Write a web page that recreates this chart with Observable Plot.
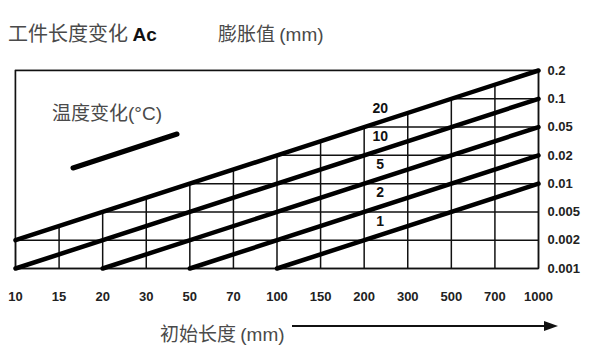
<!DOCTYPE html>
<html><head><meta charset="utf-8">
<script src="https://cdn.jsdelivr.net/npm/d3@7"></script>
<script src="https://cdn.jsdelivr.net/npm/@observablehq/plot@0.6"></script>
<style>
body{margin:0;background:#fff;}
#wrap{position:relative;width:600px;height:357px;overflow:hidden;font-family:"Noto Sans CJK SC","Liberation Sans",sans-serif;}
.t{position:absolute;white-space:nowrap;color:#4a4a4a;line-height:1;}
</style></head>
<body>
<div id="wrap">
<div id="chart"></div>
<div class="t" style="left:8px;top:23px;font-size:20px;">工件长度变化 <b style="font-family:'Liberation Sans';color:#111;font-size:19px;">Ac</b></div>
<div class="t" style="left:218px;top:23px;font-size:19px;">膨胀值 <span style="font-family:'Liberation Sans'">(mm)</span></div>
<div class="t" style="left:52px;top:102px;font-size:19px;">温度变化<span style="font-family:'Liberation Sans'">(°C)</span></div>
<div class="t" style="left:160px;top:323px;font-size:19px;">初始长度 <span style="font-family:'Liberation Sans'">(mm)</span></div>
<svg style="position:absolute;left:0;top:0" width="600" height="357">
  <line x1="73" y1="168" x2="177" y2="134" stroke="#000" stroke-width="5" stroke-linecap="round"/>
  <line x1="292" y1="326" x2="546" y2="326" stroke="#111" stroke-width="2"/>
  <path d="M558,326 L544,321 L544,331 Z" fill="#111"/>
</svg>
</div>
<script>
// Tick labels (evenly spaced nomogram axes)
const lengths = [10, 15, 20, 30, 50, 70, 100, 150, 200, 300, 500, 700, 1000];
const expansions = [0.001, 0.002, 0.005, 0.01, 0.02, 0.05, 0.1, 0.2];
// Temperature change lines: start and end points (length mm, expansion mm)
const tempChanges = [20, 10, 5, 2, 1];
const startLengths = [10, 10, 20, 50, 100];
const startValues = [0.002, 0.001, 0.001, 0.001, 0.001];
const endLengths = [1000, 1000, 1000, 1000, 1000];
const endValues = [0.2, 0.1, 0.05, 0.02, 0.01];
const labelAtLength = 200;

const xi = L => lengths.indexOf(L);
const yi = v => expansions.indexOf(v);
const fmt = v => String(v);

const lineData = [];
tempChanges.forEach((t, k) => {
  lineData.push({t, x: xi(startLengths[k]), y: yi(startValues[k])});
  lineData.push({t, x: xi(endLengths[k]), y: yi(endValues[k])});
});
const labelX = xi(labelAtLength);
const labelData = tempChanges.map((t, k) => {
  const x0 = xi(startLengths[k]), y0 = yi(startValues[k]);
  const x1 = xi(endLengths[k]), y1 = yi(endValues[k]);
  return {t, x: labelX, y: y0 + (labelX - x0) * (y1 - y0) / (x1 - x0)};
});
const topLine = lineData.filter(d => d.t === tempChanges[0]);
const yTop = expansions.length - 1;
const xTicks = d3.range(lengths.length);
const yTicks = d3.range(expansions.length);

const chart = Plot.plot({
  width: 600, height: 357,
  marginLeft: 15, marginRight: 62, marginTop: 70, marginBottom: 89,
  style: {fontFamily: "Liberation Sans", fontSize: "13px", color: "#222", background: "transparent"},
  x: {type: "linear", domain: [0, lengths.length - 1], label: null},
  y: {type: "linear", domain: [0, yTop], label: null},
  marks: [
    Plot.ruleX(xTicks, {stroke: "#111", strokeWidth: 1.5}),
    Plot.ruleY(yTicks, {stroke: "#111", strokeWidth: 1.5}),
    Plot.areaY(topLine, {x: "x", y1: "y", y2: yTop, fill: "white"}),
    Plot.frame({stroke: "#111", strokeWidth: 1.5}),
    Plot.axisX({ticks: xTicks, tickFormat: i => fmt(lengths[i]), tickSize: 0, tickPadding: 23,
      fontWeight: "bold", fontSize: 13, label: null}),
    Plot.axisY({anchor: "right", ticks: yTicks, tickFormat: i => fmt(expansions[i]), tickSize: 0,
      tickPadding: 9, fontWeight: "bold", fontSize: 13, label: null}),
    Plot.line(lineData, {x: "x", y: "y", z: "t", stroke: "#000", strokeWidth: 4.5, strokeLinecap: "round"}),
    Plot.text(labelData, {x: "x", y: "y", text: d => String(d.t), dx: 16, dy: -19,
      fontSize: 14, fontWeight: "bold", fill: "#111"})
  ]
});
document.getElementById("chart").appendChild(chart);
</script>
</body></html>
